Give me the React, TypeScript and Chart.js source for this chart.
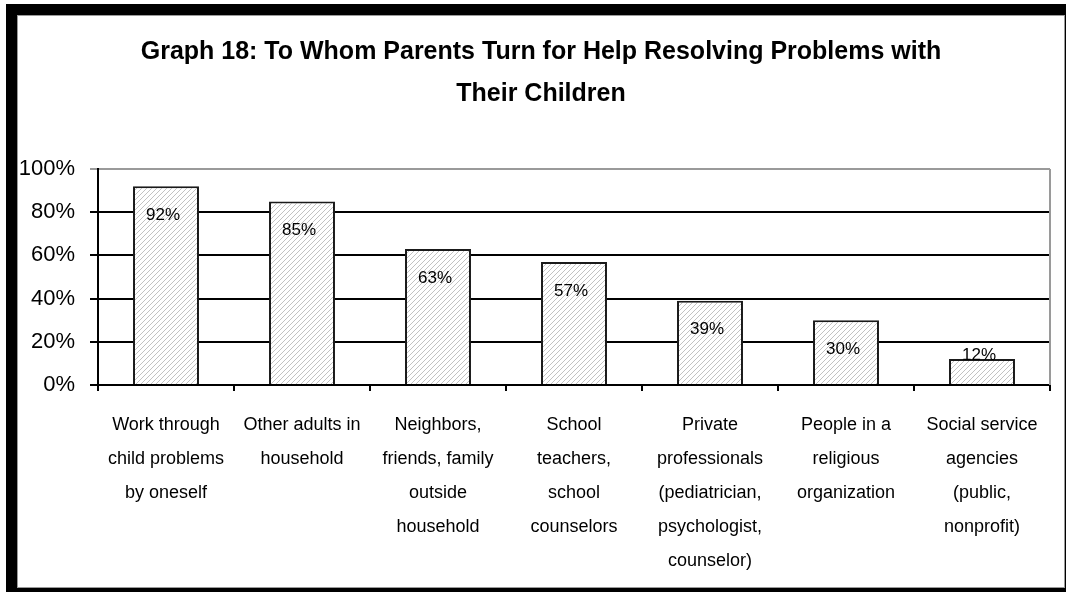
import React, { useEffect, useRef } from "react";
import { Chart, registerables } from "chart.js";

Chart.register(...registerables);

const titleLines = [
  "Graph 18: To Whom Parents Turn for Help Resolving Problems with",
  "Their Children",
];

const categories = [
  ["Work through", "child problems", "by oneself"],
  ["Other adults in", "household"],
  ["Neighbors,", "friends, family", "outside", "household"],
  ["School", "teachers,", "school", "counselors"],
  ["Private", "professionals", "(pediatrician,", "psychologist,", "counselor)"],
  ["People in a", "religious", "organization"],
  ["Social service", "agencies", "(public,", "nonprofit)"],
];

const values = [92, 85, 63, 57, 39, 30, 12];

const yTickValues = [0, 20, 40, 60, 80, 100];

const SANS = "'Liberation Sans', Arial, sans-serif";

function makeHatch(): CanvasPattern | string {
  const n = 5;
  const c = document.createElement("canvas");
  c.width = n;
  c.height = n;
  const g = c.getContext("2d");
  if (!g) return "#ddd";
  g.fillStyle = "#ffffff";
  g.fillRect(0, 0, n, n);
  g.strokeStyle = "#c2c2c2";
  g.lineWidth = 1;
  g.beginPath();
  g.moveTo(0, n);
  g.lineTo(n, 0);
  g.moveTo(-1, 1);
  g.lineTo(1, -1);
  g.moveTo(n - 1, n + 1);
  g.lineTo(n + 1, n - 1);
  g.stroke();
  return g.createPattern(c, "repeat") || "#ddd";
}

const valueLabelPlugin = {
  id: "valueLabels",
  afterDatasetsDraw(chart: any) {
    const meta = chart.getDatasetMeta(0);
    const ctx = chart.ctx;
    const base = chart.scales.y.getPixelForValue(0);
    ctx.save();
    ctx.fillStyle = "#000";
    ctx.font = `17px ${SANS}`;
    ctx.textAlign = "center";
    ctx.textBaseline = "middle";
    meta.data.forEach((bar: any, i: number) => {
      const y = Math.min(bar.y + 29, base - 30);
      ctx.fillText(values[i] + "%", bar.x - 3, y);
    });
    ctx.restore();
  },
};

const plotBorderPlugin = {
  id: "plotBorder",
  afterLayout(chart: any) {
    // let the y tick labels extend into the left padding without being clipped
    const y = chart.scales.y;
    if (y) y.left = 0;
  },
  beforeDatasetsDraw(chart: any) {
    const { ctx, chartArea } = chart;
    ctx.save();
    ctx.strokeStyle = "#9a9a9a";
    ctx.lineWidth = 2;
    ctx.beginPath();
    ctx.moveTo(chartArea.right, chartArea.top);
    ctx.lineTo(chartArea.right, chartArea.bottom);
    ctx.stroke();
    ctx.restore();
  },
};

export default function App() {
  const ref = useRef<HTMLCanvasElement | null>(null);

  useEffect(() => {
    if (!ref.current) return;
    const chart = new Chart(ref.current, {
      type: "bar",
      data: {
        labels: categories,
        datasets: [
          {
            data: values,
            backgroundColor: makeHatch() as any,
            borderColor: "#1a1a1a",
            borderWidth: 2,
            barPercentage: 0.485,
            categoryPercentage: 1,
          },
        ],
      },
      options: {
        animation: false,
        responsive: false,
        layout: { padding: { left: 32, right: 16, top: 0, bottom: 0 } },
        plugins: {
          legend: { display: false },
          tooltip: { enabled: false },
          title: {
            display: true,
            text: titleLines,
            color: "#000",
            font: { family: SANS, size: 25, weight: "bold", lineHeight: "42px" } as any,
            padding: { top: 31, bottom: 54 },
          },
        },
        scales: {
          x: {
            grid: {
              offset: true,
              drawOnChartArea: false,
              drawTicks: true,
              tickLength: 6,
              color: "#000",
              lineWidth: 2,
            },
            border: { display: true, color: "#000", width: 2 },
            ticks: {
              color: "#000",
              font: { family: SANS, size: 18, lineHeight: "34px" } as any,
              padding: 17,
              maxRotation: 0,
              autoSkip: false,
            },
            afterFit: (s: any) => {
              s.height = 207;
            },
          },
          y: {
            min: 0,
            max: 100,
            afterBuildTicks: (s: any) => {
              s.ticks = yTickValues.map((v) => ({ value: v }));
            },
            ticks: {
              color: "#000",
              font: { family: SANS, size: 22 },
              padding: 15,
              callback: (v: any) => v + "%",
            },
            grid: {
              color: (c: any) => (c.tick && c.tick.value === 100 ? "#9a9a9a" : "#000"),
              lineWidth: 2,
              tickLength: 8,
            },
            border: { display: true, color: "#000", width: 2 },
            afterFit: (s: any) => {
              s.width = 66;
            },
          },
        },
      },
      plugins: [plotBorderPlugin, valueLabelPlugin],
    });
    return () => chart.destroy();
  }, []);

  return (
    <div style={{ position: "fixed", left: 0, top: 0, width: 1066, height: 592, background: "#fff", overflow: "hidden" }}>
      <div style={{ position: "absolute", left: 6, top: 4, width: 1060, height: 588, background: "#000" }} />
      <div
        style={{
          position: "absolute",
          left: 17,
          top: 15,
          width: 1048,
          height: 573,
          background: "#fff",
          border: "1px solid #9a9a9a",
          boxSizing: "border-box",
        }}
      />
      <canvas ref={ref} width={1066} height={592} style={{ position: "absolute", left: 0, top: 0, width: 1066, height: 592 }} />
    </div>
  );
}
